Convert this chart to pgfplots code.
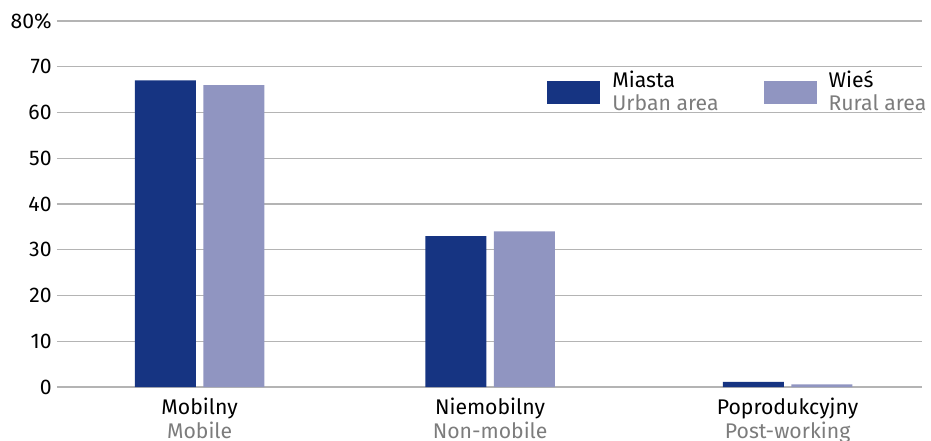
\documentclass[border=0pt]{standalone}
\usepackage{pgfplots}
\pgfplotsset{compat=1.18}
\usepackage{fontspec}
\setmainfont{Fira Sans}
\definecolor{urban}{HTML}{163482}
\definecolor{rural}{HTML}{9095C1}
\definecolor{gridc}{HTML}{B4B4B4}
\definecolor{tgray}{HTML}{7C7C7C}
\begin{document}
\fontsize{10.6}{11.5}\selectfont
\begin{tikzpicture}
\path[use as bounding box] (-28.5pt,-26.5pt) rectangle (437pt,193.5pt);
\begin{axis}[at={(0,0)}, anchor=south west, scale only axis,
  width=432.5pt, height=183pt,
  ybar, bar width=0.2075,
  xmin=-0.485, xmax=2.457, ymin=0, ymax=80,
  ytick={0,10,...,80}, yticklabels={0,10,20,30,40,50,60,70,80\%},
  xtick={0,0.988,2},
  xticklabels={{Mobilny\\\textcolor{tgray}{Mobile}},{Niemobilny\\\textcolor{tgray}{Non-mobile}},{Poprodukcyjny\\\textcolor{tgray}{Post-working}}},
  axis line style={draw=none}, major tick length=0,
  ymajorgrids, grid style={gridc, line width=0.6pt},
  yticklabel style={inner sep=0pt, xshift=-2.5pt},
  xticklabel style={align=center, inner sep=0pt, yshift=-5.5pt},
  tick label style={font=\fontsize{10.6}{12}\selectfont},
  /pgf/number format/assume math mode=true,
  legend columns=2, legend cell align=left,
  legend image code/.code={\fill[#1] (0pt,-5.75pt) rectangle (26.5pt,5.75pt);},
  legend style={at={(0.5665,0.865)}, anchor=north west, draw=none, fill=none,
    inner sep=0pt, nodes={inner sep=0pt}, cells={align=left},
    font=\fontsize{10.6}{11.5}\selectfont,
    /tikz/every odd column/.append style={column sep=6pt},
    /tikz/every even column/.append style={column sep=22.5pt}},
]
\addplot[fill=urban, draw=none, bar shift=-0.1165] coordinates {(0,67) (0.988,33) (2,1.1)};
\addlegendentry{Miasta\\\textcolor{tgray}{Urban area}}
\addplot[fill=rural, draw=none, bar shift=0.1165] coordinates {(0,66) (0.988,34) (2,0.6)};
\addlegendentry{Wieś\\\textcolor{tgray}{Rural area}}
\end{axis}
\end{tikzpicture}
\end{document}
